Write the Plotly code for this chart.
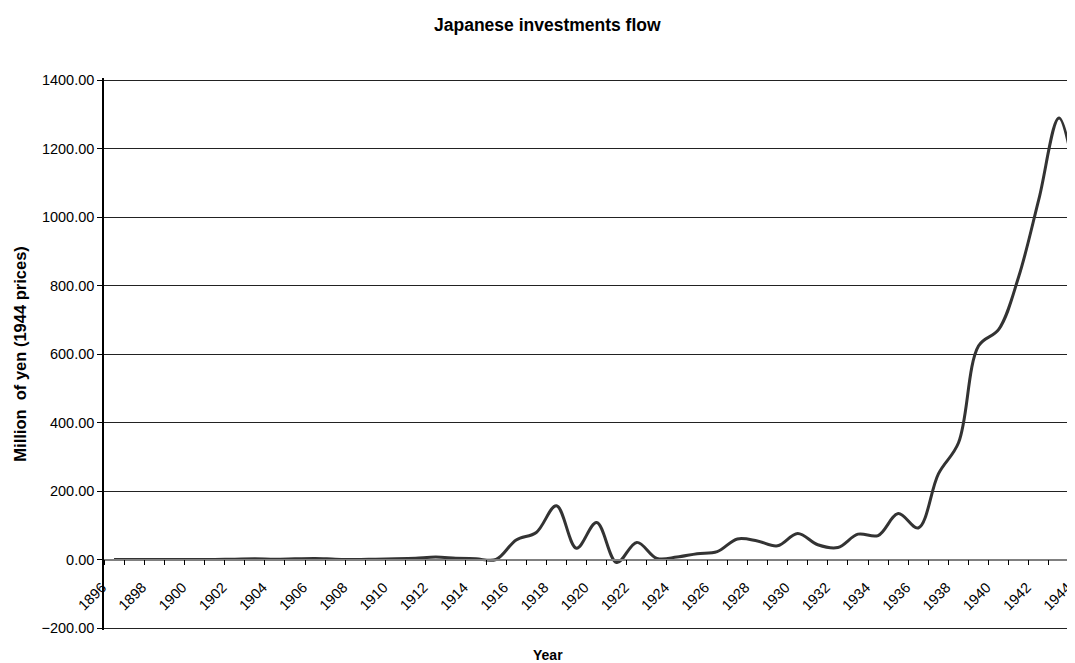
import plotly.graph_objects as go

years = list(range(1896, 1945))
investment = [
    0, 0, 0, 0, 0, 0, 1, 2, 1, 2,     # 1896-1905
    3, 1, 0, 1, 2, 4, 7, 4, 2, 0,     # 1906-1915
    57, 79, 157, 33, 108, -9, 50, 3, 7, 17,   # 1916-1925
    23, 60, 54, 40, 76, 43, 35, 74, 70, 134,  # 1926-1935
    92, 250, 341, 624, 672, 827, 1053, 1289, 1040,  # 1936-1944
]
label_years = list(range(1896, 1945, 2))
y_ticks = list(range(-200, 1401, 200))

# page has an 8px body margin: figure coords = page coords - 8
OFF = 8
W, H = 1075 - OFF, 663 - OFF
PAD = 2  # extra px so edge gridlines are not clipped
y_top_px, y_bot_px = 80, 628
units_per_px = 1600 / (y_bot_px - y_top_px)
y_range = [-200 - PAD * units_per_px, 1400 + PAD * units_per_px]

left = 104.3 - OFF
top = y_top_px - PAD - OFF
bottom = H - (y_bot_px + PAD - OFF)
cat_px = 20.1
plot_w = W - left
plot_h = H - top - bottom
x_range = [1895.5, 1895.5 + plot_w / cat_px]
x_axis_pos = (0 - y_range[0]) / (y_range[1] - y_range[0])


def px_x(page_x):
    return (page_x - OFF - left) / plot_w


def px_y(page_y):
    return 1 - (page_y - OFF - top) / plot_h


fig = go.Figure()
fig.add_trace(go.Scatter(
    x=years, y=investment, mode="lines",
    line=dict(color="#333333", width=3, shape="spline", smoothing=1.0),
    showlegend=False, hoverinfo="x+y",
))

font = "Liberation Sans, Arial, sans-serif"
fig.update_layout(
    width=W, height=H,
    margin=dict(l=left, r=0, t=top, b=bottom, pad=0),
    paper_bgcolor="white", plot_bgcolor="white",
    font=dict(family=font, size=14.5, color="#000000"),
    xaxis=dict(
        range=x_range, anchor="free", position=x_axis_pos,
        showline=True, linecolor="#808080", linewidth=1.5,
        showgrid=False, zeroline=False,
        tickmode="array",
        tickvals=[y - 0.5 for y in label_years],
        ticktext=[str(y) for y in label_years],
        ticks="outside", ticklen=5, tickcolor="#000000", tickwidth=1,
        tickangle=-45,
        ticklabelstandoff=8, ticklabelshift=-2,
        ticklabeloverflow="allow",
        minor=dict(ticks="outside", tick0=1895.5, dtick=1, ticklen=5,
                   tickcolor="#000000", tickwidth=1, showgrid=False),
        tickfont=dict(size=14.5),
    ),
    yaxis=dict(
        range=y_range, domain=[0, 1],
        tickmode="array", tickvals=y_ticks, tickformat=".2f",
        showline=True, linecolor="#000000", linewidth=1.5,
        ticks="outside", ticklen=5, tickcolor="#000000",
        showgrid=True, gridcolor="#222222", gridwidth=1,
        zeroline=False,
        tickfont=dict(size=14.5),
    ),
    annotations=[
        dict(text="<b>Japanese investments flow</b>", xref="paper", yref="paper",
             x=px_x(548), y=px_y(25),
             showarrow=False, font=dict(size=17.5), xanchor="center", yanchor="middle"),
        dict(text="<b>Year</b>", xref="paper", yref="paper",
             x=px_x(548), y=px_y(655),
             showarrow=False, font=dict(size=14), xanchor="center", yanchor="middle"),
        dict(text="<b>Million  of yen (1944 prices)</b>", xref="paper", yref="paper",
             x=px_x(20), y=px_y(354),
             textangle=-90, showarrow=False, font=dict(size=16.5),
             xanchor="center", yanchor="middle"),
    ],
)

fig.write_html("out.html")
